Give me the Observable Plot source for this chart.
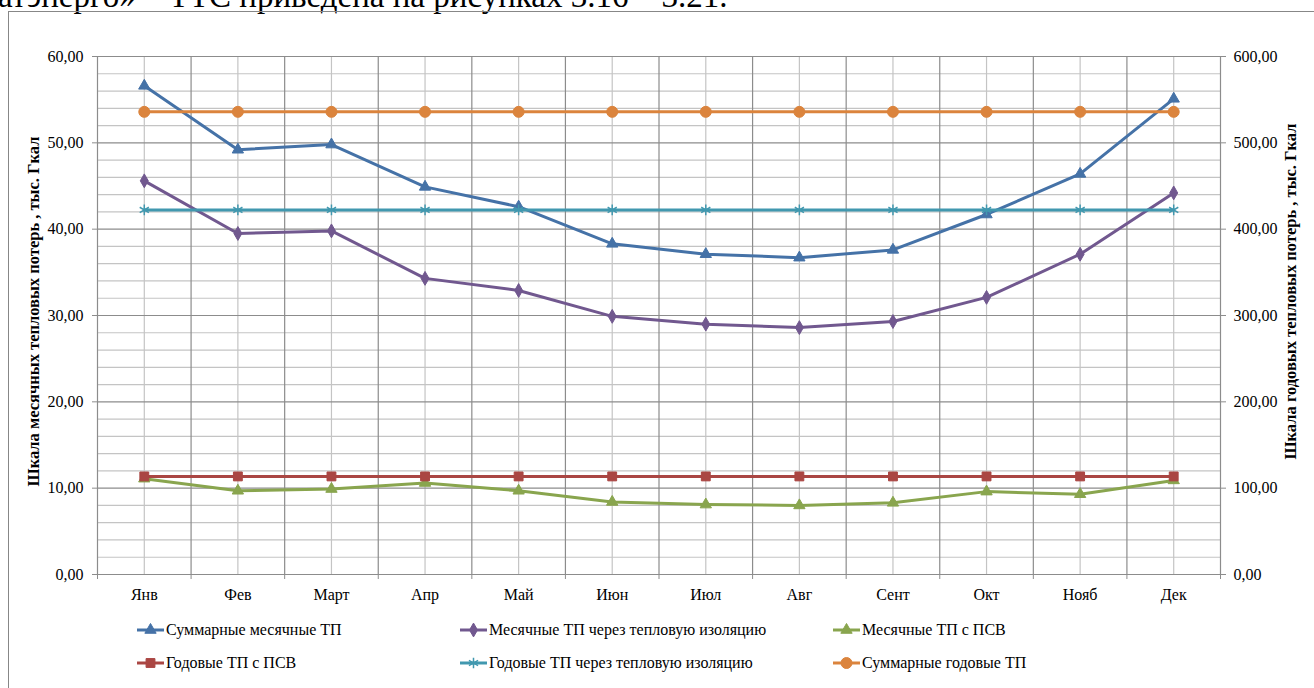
<!DOCTYPE html>
<html><head><meta charset="utf-8">
<script src="https://cdn.jsdelivr.net/npm/d3@7"></script>
<script src="https://cdn.jsdelivr.net/npm/@observablehq/plot@0.6"></script>
<style>
body{margin:0;background:#fff;}
#page{position:relative;width:1314px;height:688px;overflow:hidden;background:#fff;font-family:'Liberation Serif','Times New Roman',serif;}
#toptext{position:absolute;left:-2px;top:-20px;font-size:33px;line-height:33px;white-space:nowrap;color:#000;}
#frame{position:absolute;left:8px;top:11px;width:1400px;height:800px;border:1px solid #878787;box-sizing:border-box;}
#chart{position:absolute;left:0;top:0;}
.lg{position:absolute;display:flex;align-items:center;font-size:16px;color:#000;white-space:nowrap;}
.lg svg{display:block;margin-right:2px;}
</style></head>
<body>
<div id="page">
  <div id="toptext">атэнерго» – ТТС приведена на рисунках 3.16 – 3.21.</div>
  <div id="frame"></div>
  <div id="chart"></div>
  <div id="legend"></div>
</div>
<script>
const months = ["Янв","Фев","Март","Апр","Май","Июн","Июл","Авг","Сент","Окт","Нояб","Дек"];
const sumMonthly   = [56.6,49.2,49.8,44.9,42.6,38.3,37.1,36.7,37.6,41.7,46.4,55.1];
const insulMonthly = [45.6,39.5,39.8,34.3,32.9,29.9,29.0,28.6,29.3,32.1,37.1,44.2];
const psvMonthly   = [11.1,9.7,9.9,10.6,9.7,8.4,8.1,8.0,8.3,9.6,9.3,10.9];
const psvAnnual    = [113.6,113.6,113.6,113.6,113.6,113.6,113.6,113.6,113.6,113.6,113.6,113.6];
const insulAnnual  = [422.3,422.3,422.3,422.3,422.3,422.3,422.3,422.3,422.3,422.3,422.3,422.3];
const sumAnnual    = [535.9,535.9,535.9,535.9,535.9,535.9,535.9,535.9,535.9,535.9,535.9,535.9];
const leftTicks  = [0,10,20,30,40,50,60];
const rightTicks = [0,100,200,300,400,500,600];
const leftTitle  = "Шкала месячных тепловых потерь , тыс. Гкал";
const rightTitle = "Шкала годовых тепловых потерь , тыс. Гкал";

const series = [
  {name:"Суммарные месячные ТП", values:sumMonthly, right:false, color:"#4572A7", symbol:"triangle", r:4.2},
  {name:"Месячные ТП через тепловую изоляцию", values:insulMonthly, right:false, color:"#71588F", symbol:"diamond", r:4.2},
  {name:"Месячные ТП с ПСВ", values:psvMonthly, right:false, color:"#89A54E", symbol:"triangle", r:4.2},
  {name:"Годовые ТП с ПСВ", values:psvAnnual, right:true, color:"#AA4643", symbol:"square", r:5},
  {name:"Годовые ТП через тепловую изоляцию", values:insulAnnual, right:true, color:"#4198AF", symbol:"asterisk", r:5},
  {name:"Суммарные годовые ТП", values:sumAnnual, right:true, color:"#DB843D", symbol:"circle", r:5.5}
];
const ratio = rightTicks[rightTicks.length-1] / leftTicks[leftTicks.length-1];
const fmt = d => d.toFixed(2).replace(".", ",");

const idx = d3.range(months.length);
const bounds = d3.range(months.length + 1).map(i => i - 0.5);
const minorY = d3.range(0, 61, 2).filter(v => v % 10 !== 0);

const marks = [
  Plot.ruleY(minorY, {stroke:"#c4c4c4", strokeWidth:1.2}),
  Plot.ruleX(idx, {stroke:"#c4c4c4", strokeWidth:1.2}),
  Plot.ruleY(leftTicks, {stroke:"#8c8c8c", strokeWidth:1.2}),
  Plot.ruleX(bounds, {stroke:"#8c8c8c", strokeWidth:1.2}),
  Plot.axisY(leftTicks, {anchor:"left", tickSize:5, tickPadding:9, tickFormat:fmt, stroke:"#8c8c8c", fill:"#000", fontSize:16, label:null}),
  Plot.axisY(leftTicks, {anchor:"right", tickSize:5, tickPadding:8, tickFormat:d => fmt(d*ratio), stroke:"#8c8c8c", fill:"#000", fontSize:16, label:null}),
  Plot.axisX(bounds, {anchor:"bottom", tickSize:5, tickFormat:() => "", stroke:"#8c8c8c", label:null}),
  Plot.axisX(idx, {anchor:"bottom", tickSize:0, tickPadding:14, tickFormat:i => months[i], fill:"#000", fontSize:16, label:null}),
  Plot.text([leftTitle], {frameAnchor:"left", textAnchor:"middle", rotate:-90, dx:-64, dy:-4, fontWeight:"bold", fontSize:16.5, fill:"#000"}),
  Plot.text([rightTitle], {frameAnchor:"right", textAnchor:"middle", rotate:-90, dx:70, dy:-24, fontWeight:"bold", fontSize:16.5, fill:"#000"})
];
for (const s of series) {
  const data = s.values.map((v,i) => ({i, y: s.right ? v/ratio : v}));
  marks.push(Plot.line(data, {x:"i", y:"y", stroke:s.color, strokeWidth:3}));
  if (s.symbol === "asterisk") {
    marks.push(Plot.dot(data, {x:"i", y:"y", symbol:"asterisk", r:s.r, stroke:s.color, fill:"none", strokeWidth:1.5}));
  } else {
    marks.push(Plot.dot(data, {x:"i", y:"y", symbol:s.symbol, r:s.r, fill:s.color, stroke:s.color, strokeWidth:1}));
  }
}

const chart = Plot.plot({
  width:1314, height:610,
  marginLeft:97, marginRight:94, marginTop:56, marginBottom:36,
  style:{background:"transparent", fontFamily:"'Liberation Serif','Times New Roman',serif", fontSize:"16px", color:"#000", overflow:"visible"},
  x:{type:"linear", domain:[-0.5, 11.5], axis:null},
  y:{type:"linear", domain:[0, 60], axis:null},
  marks
});
document.getElementById("chart").appendChild(chart);

// legend (below the chart SVG)
const legendPos = [[137,630],[460,630],[833,630],[137,663],[460,663],[833,663]];
const symMap = {triangle:d3.symbolTriangle, diamond:d3.symbolDiamond, square:d3.symbolSquare, asterisk:d3.symbolAsterisk, circle:d3.symbolCircle};
const lg = document.getElementById("legend");
series.forEach((s, k) => {
  const [x, y] = legendPos[k];
  const div = document.createElement("div");
  div.className = "lg";
  div.style.left = x + "px";
  div.style.top = (y - 10) + "px";
  div.style.height = "20px";
  const size = Math.PI * s.r * s.r;
  const path = d3.symbol(symMap[s.symbol], size)();
  const fill = s.symbol === "asterisk" ? "none" : s.color;
  const sw = s.symbol === "asterisk" ? 1.5 : 1;
  div.innerHTML = `<svg width="27" height="20"><line x1="0" x2="27" y1="10" y2="10" stroke="${s.color}" stroke-width="3"/><path transform="translate(13.5,10)" d="${path}" fill="${fill}" stroke="${s.color}" stroke-width="${sw}"/></svg><span>${s.name}</span>`;
  lg.appendChild(div);
});
</script>
</body></html>
